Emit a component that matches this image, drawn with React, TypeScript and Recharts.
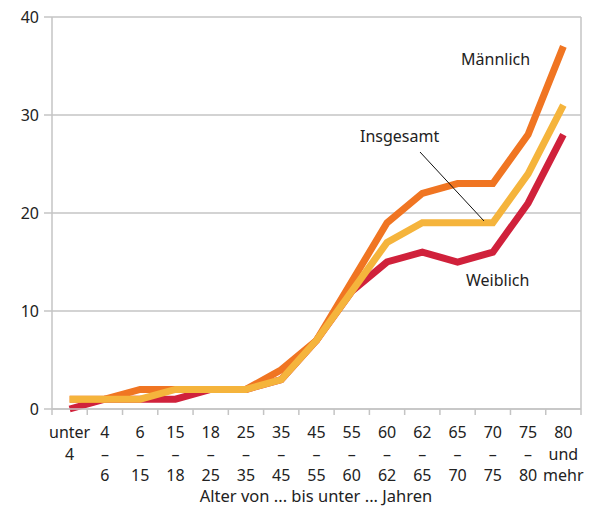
import { LineChart, Line, XAxis, YAxis, CartesianGrid } from 'recharts';

// Altersgruppen, dreizeilig beschriftet
const ageTop = ['unter', '4', '6', '15', '18', '25', '35', '45', '55', '60', '62', '65', '70', '75', '80'];
const ageMid = ['4', '–', '–', '–', '–', '–', '–', '–', '–', '–', '–', '–', '–', '–', 'und'];
const ageBot = ['', '6', '15', '18', '25', '35', '45', '55', '60', '62', '65', '70', '75', '80', 'mehr'];

const maennlich = [1, 1, 2, 2, 2, 2, 4, 7, 13, 19, 22, 23, 23, 28, 37];
const weiblich = [0, 1, 1, 1, 2, 2, 3, 7, 12, 15, 16, 15, 16, 21, 28];
const insgesamt = [1, 1, 1, 2, 2, 2, 3, 7, 12, 17, 19, 19, 19, 24, 31];

const yTicks = [0, 10, 20, 30, 40];

const W = 600;
const H = 508;
const margin = { top: 17, right: 19, left: 0, bottom: 0 };
const Y_WIDTH = 52;
const BAND = (W - Y_WIDTH - margin.right) / ageTop.length;

const GRID = '#c4c4c4';
const FONT = '"Noto Sans", sans-serif';
const TEXT = '#222';

const data = ageTop.map((_, i) => ({
    idx: i,
    m: maennlich[i],
    w: weiblich[i],
    g: insgesamt[i],
}));

function AgeTick(props: any) {
    const { x, y, payload } = props;
    const i = payload.index;
    const left = x - BAND / 2;
    return (
        <g>
            <line x1={left} y1={y} x2={left} y2={y + 6} stroke={GRID} strokeWidth={1.5} />
            {i === ageTop.length - 1 && (
                <line x1={x + BAND / 2} y1={y - 392} x2={x + BAND / 2} y2={y + 6} stroke={GRID} strokeWidth={1.5} />
            )}
            <text x={x} y={y} textAnchor="middle" fontSize={16} fill={TEXT} fontFamily={FONT}>
                <tspan x={x} dy={29}>{ageTop[i]}</tspan>
                <tspan x={x} dy={21.5}>{ageMid[i]}</tspan>
                <tspan x={x} dy={21.5}>{ageBot[i]}</tspan>
            </text>
        </g>
    );
}

export default function App() {
    return (
        <div style={{ position: 'absolute', left: 0, top: 0, width: W, height: H, background: '#fff' }}>
            <LineChart width={W} height={H} data={data} margin={margin}>
                <CartesianGrid vertical={false} stroke={GRID} strokeWidth={1.5} />
                <XAxis
                    dataKey="idx"
                    scale="band"
                    height={99}
                    interval={0}
                    tickLine={false}
                    tickSize={0}
                    tickMargin={0}
                    axisLine={{ stroke: GRID, strokeWidth: 1.5 }}
                    tick={<AgeTick />}
                />
                <YAxis
                    width={Y_WIDTH}
                    domain={[0, 40]}
                    ticks={yTicks}
                    interval={0}
                    tickSize={8}
                    tickMargin={5}
                    tickLine={{ stroke: GRID, strokeWidth: 1.5 }}
                    axisLine={{ stroke: GRID, strokeWidth: 1.5 }}
                    tick={{ fontSize: 16, fill: TEXT, fontFamily: FONT }}
                />
                <Line dataKey="w" stroke="#d0213b" strokeWidth={7} dot={false} isAnimationActive={false} strokeLinejoin="miter" />
                <Line dataKey="m" stroke="#f07522" strokeWidth={7} dot={false} isAnimationActive={false} strokeLinejoin="miter" />
                <Line dataKey="g" stroke="#f5b43c" strokeWidth={7} dot={false} isAnimationActive={false} strokeLinejoin="miter" />
            </LineChart>
            <svg width={W} height={H} style={{ position: 'absolute', left: 0, top: 0, pointerEvents: 'none' }}>
                <g fontFamily={FONT} fontSize={16} fill={TEXT}>
                    <text x={461} y={65}>Männlich</text>
                    <text x={360} y={142}>Insgesamt</text>
                    <text x={466} y={286}>Weiblich</text>
                    <text x={316} y={502} textAnchor="middle" fontSize={16.5}>Alter von ... bis unter ... Jahren</text>
                </g>
                <line x1={420} y1={152} x2={484} y2={221} stroke="#111" strokeWidth={1} />
            </svg>
        </div>
    );
}
